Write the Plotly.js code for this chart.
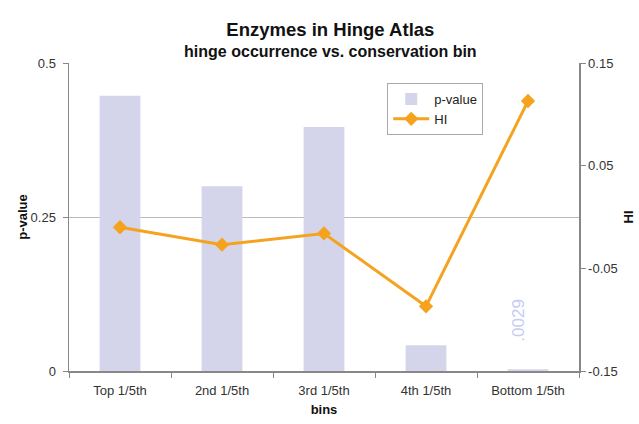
<!DOCTYPE html>
<html>
<head>
<meta charset="utf-8">
<script src="https://cdn.plot.ly/plotly-3.0.1.min.js"></script>
<style>html,body{margin:0;padding:0;background:#fff;}#chart{width:639px;height:424px;}</style>
</head>
<body>
<div id="chart"></div>
<script>
var categories = ["Top 1/5th", "2nd 1/5th", "3rd 1/5th", "4th 1/5th", "Bottom 1/5th"];
var pValues = [0.447, 0.300, 0.396, 0.042, 0.0029];
var hiValues = [-0.010, -0.027, -0.016, -0.087, 0.113];
var pLabelIndex = 4;
var pLabelText = ".0029";

var font = "Liberation Sans, Arial, sans-serif";
var barColor = "#D4D4EA";
var lineColor = "#F5A31F";

var traces = [
  {
    type: "bar", name: "p-value", x: categories, y: pValues,
    marker: {color: barColor}, width: 0.4, yaxis: "y"
  },
  {
    type: "scatter", mode: "lines+markers", name: "HI", x: categories, y: hiValues,
    yaxis: "y2", line: {color: lineColor, width: 3},
    marker: {symbol: "diamond", size: 11, color: lineColor}
  }
];

var layout = {
  width: 639, height: 424,
  margin: {l: 69, r: 60, t: 63, b: 53},
  paper_bgcolor: "#fff", plot_bgcolor: "#fff",
  font: {family: font, size: 13, color: "#333"},
  title: {
    text: "<b><span style='font-size:18.5px'>Enzymes in Hinge Atlas</span></b><br><b>hinge occurrence vs. conservation bin</b>",
    font: {family: font, size: 16, color: "#111"},
    x: 0.517, xanchor: "center", yref: "container", y: 0.915, yanchor: "middle"
  },
  showlegend: true,
  legend: {
    x: 0.624, y: 0.935, xanchor: "left", yanchor: "top",
    bgcolor: "#fff", bordercolor: "#aaa", borderwidth: 1,
    font: {family: font, size: 13, color: "#222"},
    tracegroupgap: 0, itemwidth: 36
  },
  xaxis: {
    type: "category", showline: true, linecolor: "#888", linewidth: 1.5,
    ticks: "outside", tickson: "boundaries", ticklen: 5, tickcolor: "#888",
    ticklabelstandoff: 7,
    showgrid: false, tickfont: {family: font, size: 13, color: "#333"},
    title: {text: "<b>bins</b>", font: {family: font, size: 13, color: "#111"}, standoff: 8}
  },
  yaxis: {
    range: [0, 0.5], tickvals: [0, 0.25, 0.5], ticktext: ["0", "0.25", "0.5"],
    showline: true, linecolor: "#888", linewidth: 1.5,
    ticks: "outside", ticklen: 5, tickcolor: "#888", ticklabelstandoff: 4,
    showgrid: true, gridcolor: "#bbb", gridwidth: 1, zeroline: false,
    tickfont: {family: font, size: 13, color: "#333"},
    title: {text: "<b>p-value</b>", font: {family: font, size: 13, color: "#111"}, standoff: 0}
  },
  yaxis2: {
    overlaying: "y", side: "right", range: [-0.15, 0.15],
    tickvals: [-0.15, -0.05, 0.05, 0.15], ticktext: ["-0.15", "-0.05", "0.05", "0.15"],
    showline: true, linecolor: "#888", linewidth: 1.5,
    ticks: "outside", ticklen: 5, tickcolor: "#888",
    showgrid: false, zeroline: false,
    tickfont: {family: font, size: 13, color: "#333"},
    title: {text: "<b>HI</b>", font: {family: font, size: 13, color: "#111"}, standoff: 7}
  },
  annotations: [{
    x: categories[pLabelIndex], y: pValues[pLabelIndex], xref: "x", yref: "y",
    text: pLabelText, textangle: -90, showarrow: false,
    yanchor: "bottom", yshift: 25, xshift: -9,
    font: {family: font, size: 17, color: "#C6CAF6"}
  }]
};

Plotly.newPlot("chart", traces, layout, {displayModeBar: false, staticPlot: true});
</script>
</body>
</html>
